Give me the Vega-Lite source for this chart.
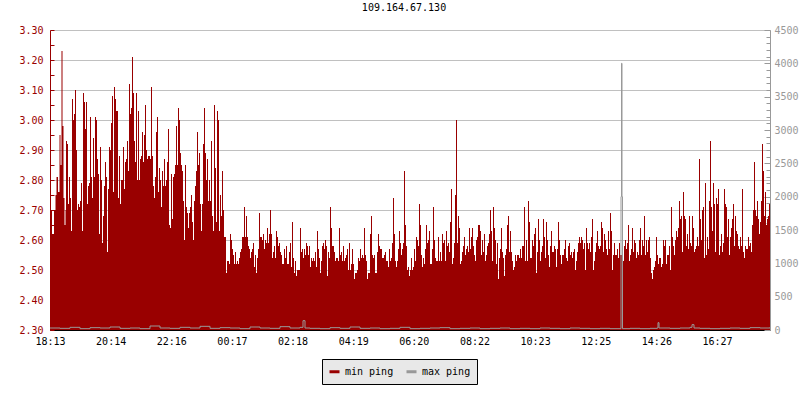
{
  "$schema": "https://vega.github.io/schema/vega-lite/v6.json",
  "width": 720,
  "height": 300,
  "autosize": {"type": "none"},
  "padding": {"left": 50, "top": 30, "right": 30, "bottom": 70},
  "background": "white",
  "title": {"text": "109.164.67.130", "font": "DejaVu Sans Mono", "fontSize": 10, "fontWeight": "normal", "color": "black", "offset": 12, "dx": -6},
  "datasets": {
    "minp": [
      {"m":0,"v":2.70},{"m":4,"v":2.62},{"m":8,"v":2.70},{"m":11,"v":2.75},{"m":13,"v":2.81},{"m":16,"v":2.76},{"m":19,"v":2.95},{"m":21,"v":2.85},{"m":23,"v":3.23},{"m":25,"v":2.98},{"m":27,"v":2.74},{"m":29,"v":2.65},{"m":31,"v":2.70},
      {"m":32,"v":2.93},{"m":34,"v":2.92},{"m":36,"v":2.72},{"m":38,"v":2.81},{"m":40,"v":2.74},{"m":42,"v":2.63},{"m":44,"v":3.07},{"m":46,"v":3.00},{"m":48,"v":3.02},{"m":50,"v":3.10},
      {"m":52,"v":2.90},{"m":54,"v":2.70},{"m":56,"v":2.72},{"m":58,"v":2.71},{"m":60,"v":2.73},{"m":62,"v":2.79},{"m":64,"v":2.63},{"m":66,"v":3.09},{"m":68,"v":3.06},{"m":70,"v":2.97},
      {"m":72,"v":3.06},{"m":74,"v":2.72},{"m":76,"v":2.78},{"m":78,"v":2.79},{"m":80,"v":3.01},{"m":82,"v":2.81},{"m":84,"v":2.74},{"m":86,"v":2.94},{"m":88,"v":2.81},{"m":90,"v":3.01},
      {"m":92,"v":3.00},{"m":94,"v":2.87},{"m":96,"v":2.82},{"m":98,"v":2.62},{"m":100,"v":2.91},{"m":102,"v":2.80},{"m":104,"v":2.59},{"m":106,"v":2.68},{"m":108,"v":2.78},{"m":110,"v":2.86},
      {"m":112,"v":2.81},{"m":114,"v":2.56},{"m":116,"v":2.77},{"m":118,"v":2.91},{"m":120,"v":2.90},{"m":122,"v":2.99},{"m":124,"v":3.08},{"m":126,"v":2.76},{"m":128,"v":3.11},{"m":130,"v":3.07},
      {"m":132,"v":3.03},{"m":134,"v":3.03},{"m":136,"v":2.74},{"m":138,"v":2.88},{"m":140,"v":2.72},{"m":142,"v":2.80},{"m":144,"v":2.80},{"m":146,"v":2.91},{"m":148,"v":2.77},{"m":150,"v":2.86},
      {"m":152,"v":2.87},{"m":154,"v":2.93},{"m":156,"v":2.83},{"m":158,"v":3.12},{"m":160,"v":3.02},{"m":162,"v":3.04},{"m":164,"v":3.21},{"m":166,"v":3.09},{"m":168,"v":2.93},{"m":170,"v":2.86},
      {"m":172,"v":3.09},{"m":174,"v":2.80},{"m":176,"v":3.03},{"m":178,"v":2.80},{"m":180,"v":2.87},{"m":182,"v":2.88},{"m":184,"v":2.96},{"m":186,"v":2.86},{"m":188,"v":2.95},{"m":190,"v":3.05},
      {"m":192,"v":2.90},{"m":194,"v":2.87},{"m":196,"v":2.88},{"m":198,"v":2.88},{"m":200,"v":2.87},{"m":202,"v":3.11},{"m":204,"v":2.88},{"m":206,"v":2.78},{"m":208,"v":2.74},{"m":210,"v":2.81},
      {"m":212,"v":2.96},{"m":214,"v":3.01},{"m":216,"v":2.76},{"m":218,"v":2.84},{"m":220,"v":2.80},{"m":222,"v":2.71},{"m":224,"v":2.83},{"m":226,"v":2.78},{"m":228,"v":2.87},{"m":230,"v":2.78},
      {"m":232,"v":2.80},{"m":234,"v":2.86},{"m":236,"v":2.97},{"m":238,"v":2.65},
      {"m":240,"v":2.64},{"m":242,"v":2.82},{"m":244,"v":2.67},{"m":246,"v":2.81},{"m":248,"v":2.82},{"m":250,"v":2.85},{"m":252,"v":2.98},{"m":254,"v":2.85},{"m":256,"v":3.04},{"m":258,"v":3.00},
      {"m":260,"v":2.89},{"m":262,"v":2.85},{"m":264,"v":2.83},{"m":266,"v":2.73},{"m":268,"v":2.60},{"m":270,"v":2.85},{"m":272,"v":2.71},{"m":274,"v":2.69},{"m":276,"v":2.64},{"m":278,"v":2.69},
      {"m":280,"v":2.71},{"m":282,"v":2.75},{"m":284,"v":2.66},{"m":286,"v":2.60},{"m":288,"v":2.73},{"m":290,"v":2.78},{"m":292,"v":2.83},{"m":294,"v":2.96},{"m":296,"v":2.85},{"m":298,"v":2.89},
      {"m":300,"v":2.72},{"m":302,"v":2.63},{"m":304,"v":2.72},{"m":306,"v":2.92},{"m":308,"v":3.04},{"m":310,"v":2.89},{"m":312,"v":2.80},{"m":314,"v":2.87},{"m":316,"v":2.73},{"m":318,"v":2.80},
      {"m":320,"v":2.73},{"m":322,"v":2.93},{"m":324,"v":2.68},{"m":326,"v":2.63},{"m":328,"v":3.05},{"m":330,"v":2.84},{"m":332,"v":2.66},{"m":334,"v":3.03},{"m":336,"v":3.00},{"m":338,"v":2.63},
      {"m":340,"v":2.75},{"m":342,"v":2.68},{"m":344,"v":2.83},{"m":346,"v":2.70},{"m":348,"v":2.61},{"m":350,"v":2.61},{"m":352,"v":2.49},{"m":354,"v":2.53},{"m":356,"v":2.53},{"m":358,"v":2.52},
      {"m":360,"v":2.62},{"m":362,"v":2.60},{"m":364,"v":2.57},{"m":366,"v":2.55},{"m":368,"v":2.52},{"m":370,"v":2.56},{"m":372,"v":2.52},{"m":374,"v":2.53},{"m":376,"v":2.52},{"m":378,"v":2.54},
      {"m":380,"v":2.56},{"m":382,"v":2.57},{"m":384,"v":2.61},{"m":386,"v":2.61},{"m":388,"v":2.71},{"m":390,"v":2.61},{"m":392,"v":2.68},{"m":394,"v":2.61},{"m":396,"v":2.58},{"m":398,"v":2.57},
      {"m":400,"v":2.54},{"m":402,"v":2.56},{"m":404,"v":2.57},{"m":406,"v":2.59},{"m":408,"v":2.51},{"m":410,"v":2.55},{"m":412,"v":2.49},{"m":414,"v":2.54},{"m":416,"v":2.57},{"m":418,"v":2.69},
      {"m":420,"v":2.61},{"m":422,"v":2.61},{"m":424,"v":2.60},{"m":426,"v":2.62},{"m":428,"v":2.57},{"m":430,"v":2.60},{"m":432,"v":2.59},{"m":434,"v":2.64},{"m":436,"v":2.59},{"m":438,"v":2.62},
      {"m":440,"v":2.70},{"m":442,"v":2.62},{"m":444,"v":2.54},{"m":446,"v":2.56},{"m":448,"v":2.58},{"m":450,"v":2.54},{"m":452,"v":2.63},{"m":454,"v":2.61},{"m":456,"v":2.58},{"m":458,"v":2.59},
      {"m":460,"v":2.56},{"m":462,"v":2.55},{"m":464,"v":2.52},{"m":466,"v":2.52},{"m":468,"v":2.57},{"m":470,"v":2.54},{"m":472,"v":2.58},{"m":474,"v":2.52},{"m":476,"v":2.52},{"m":478,"v":2.56},
      {"m":480,"v":2.59},{"m":482,"v":2.51},{"m":484,"v":2.66},{"m":486,"v":2.54},{"m":488,"v":2.49},{"m":490,"v":2.53},{"m":492,"v":2.48},{"m":494,"v":2.50},{"m":496,"v":2.50},{"m":498,"v":2.50},
      {"m":500,"v":2.64},{"m":502,"v":2.56},{"m":504,"v":2.57},{"m":506,"v":2.54},{"m":508,"v":2.57},{"m":510,"v":2.55},{"m":512,"v":2.59},{"m":514,"v":2.58},{"m":516,"v":2.55},{"m":518,"v":2.58},
      {"m":520,"v":2.51},{"m":522,"v":2.54},{"m":524,"v":2.53},{"m":526,"v":2.54},{"m":528,"v":2.53},{"m":530,"v":2.56},{"m":532,"v":2.51},{"m":534,"v":2.63},{"m":536,"v":2.57},{"m":538,"v":2.54},
      {"m":540,"v":2.49},{"m":542,"v":2.53},{"m":544,"v":2.58},{"m":546,"v":2.59},{"m":548,"v":2.57},{"m":550,"v":2.60},{"m":552,"v":2.58},{"m":554,"v":2.48},{"m":556,"v":2.56},{"m":558,"v":2.54},
      {"m":560,"v":2.71},{"m":562,"v":2.64},{"m":564,"v":2.58},{"m":566,"v":2.58},{"m":568,"v":2.56},{"m":570,"v":2.53},{"m":572,"v":2.54},{"m":574,"v":2.54},{"m":576,"v":2.53},{"m":578,"v":2.64},
      {"m":580,"v":2.55},{"m":582,"v":2.56},{"m":584,"v":2.53},{"m":586,"v":2.58},{"m":588,"v":2.53},{"m":590,"v":2.54},{"m":592,"v":2.55},{"m":594,"v":2.57},{"m":596,"v":2.50},{"m":598,"v":2.59},
      {"m":600,"v":2.50},{"m":602,"v":2.52},{"m":604,"v":2.57},{"m":606,"v":2.52},{"m":608,"v":2.47},{"m":610,"v":2.49},{"m":612,"v":2.49},{"m":614,"v":2.50},{"m":616,"v":2.54},{"m":618,"v":2.53},
      {"m":620,"v":2.57},{"m":622,"v":2.54},{"m":624,"v":2.55},{"m":626,"v":2.54},{"m":628,"v":2.64},{"m":630,"v":2.55},{"m":632,"v":2.53},{"m":634,"v":2.47},{"m":636,"v":2.49},{"m":638,"v":2.49},
      {"m":640,"v":2.62},{"m":642,"v":2.68},{"m":644,"v":2.55},{"m":646,"v":2.54},{"m":648,"v":2.55},{"m":650,"v":2.49},{"m":652,"v":2.49},{"m":654,"v":2.56},{"m":656,"v":2.62},{"m":658,"v":2.58},
      {"m":660,"v":2.57},{"m":662,"v":2.57},{"m":664,"v":2.54},{"m":666,"v":2.54},{"m":668,"v":2.55},{"m":670,"v":2.56},{"m":672,"v":2.53},{"m":674,"v":2.53},{"m":676,"v":2.51},{"m":678,"v":2.57},
      {"m":680,"v":2.53},{"m":682,"v":2.54},{"m":684,"v":2.59},{"m":686,"v":2.74},{"m":688,"v":2.62},{"m":690,"v":2.53},{"m":692,"v":2.51},{"m":694,"v":2.53},{"m":696,"v":2.57},{"m":698,"v":2.63},
      {"m":700,"v":2.59},{"m":702,"v":2.55},{"m":704,"v":2.57},{"m":706,"v":2.59},{"m":708,"v":2.83},{"m":710,"v":2.65},{"m":712,"v":2.58},{"m":714,"v":2.50},{"m":716,"v":2.51},{"m":718,"v":2.48},
      {"m":720,"v":2.50},{"m":722,"v":2.54},{"m":724,"v":2.50},{"m":726,"v":2.51},{"m":728,"v":2.57},{"m":730,"v":2.53},{"m":732,"v":2.61},{"m":734,"v":2.60},{"m":736,"v":2.58},{"m":738,"v":2.72},
      {"m":740,"v":2.65},{"m":742,"v":2.55},{"m":744,"v":2.51},{"m":746,"v":2.54},{"m":748,"v":2.52},{"m":750,"v":2.57},{"m":752,"v":2.65},{"m":754,"v":2.59},{"m":756,"v":2.60},{"m":758,"v":2.63},
      {"m":760,"v":2.52},{"m":762,"v":2.52},{"m":764,"v":2.57},{"m":766,"v":2.71},{"m":768,"v":2.60},{"m":770,"v":2.54},{"m":772,"v":2.53},{"m":774,"v":2.53},{"m":776,"v":2.61},{"m":778,"v":2.53},
      {"m":780,"v":2.56},{"m":782,"v":2.53},{"m":784,"v":2.62},{"m":786,"v":2.59},{"m":788,"v":2.60},{"m":790,"v":2.53},{"m":792,"v":2.63},{"m":794,"v":2.58},{"m":796,"v":2.59},{"m":798,"v":2.56},
      {"m":800,"v":2.66},{"m":802,"v":2.77},{"m":804,"v":2.52},{"m":806,"v":2.54},{"m":808,"v":2.59},{"m":810,"v":2.75},{"m":812,"v":3.00},{"m":814,"v":2.59},{"m":816,"v":2.68},{"m":818,"v":2.64},
      {"m":820,"v":2.52},{"m":822,"v":2.53},{"m":824,"v":2.56},{"m":826,"v":2.58},{"m":828,"v":2.61},{"m":830,"v":2.55},{"m":832,"v":2.57},{"m":834,"v":2.58},{"m":836,"v":2.56},{"m":838,"v":2.64},
      {"m":840,"v":2.57},{"m":842,"v":2.61},{"m":844,"v":2.64},{"m":846,"v":2.58},{"m":848,"v":2.55},{"m":850,"v":2.53},{"m":852,"v":2.60},{"m":854,"v":2.61},{"m":856,"v":2.65},{"m":858,"v":2.65},
      {"m":860,"v":2.63},{"m":862,"v":2.55},{"m":864,"v":2.60},{"m":866,"v":2.56},{"m":868,"v":2.62},{"m":870,"v":2.53},{"m":872,"v":2.55},{"m":874,"v":2.58},{"m":876,"v":2.59},{"m":878,"v":2.62},
      {"m":880,"v":2.70},{"m":882,"v":2.63},{"m":884,"v":2.53},{"m":886,"v":2.71},{"m":888,"v":2.64},{"m":890,"v":2.60},{"m":892,"v":2.52},{"m":894,"v":2.59},{"m":896,"v":2.47},{"m":898,"v":2.54},
      {"m":900,"v":2.57},{"m":902,"v":2.64},{"m":904,"v":2.56},{"m":906,"v":2.54},{"m":908,"v":2.48},{"m":910,"v":2.55},{"m":912,"v":2.57},{"m":914,"v":2.65},{"m":916,"v":2.68},{"m":918,"v":2.56},
      {"m":920,"v":2.63},{"m":922,"v":2.56},{"m":924,"v":2.53},{"m":926,"v":2.50},{"m":928,"v":2.51},{"m":930,"v":2.55},{"m":932,"v":2.53},{"m":934,"v":2.55},{"m":936,"v":2.55},{"m":938,"v":2.54},
      {"m":940,"v":2.57},{"m":942,"v":2.54},{"m":944,"v":2.58},{"m":946,"v":2.58},{"m":948,"v":2.71},{"m":950,"v":2.53},{"m":952,"v":2.60},{"m":954,"v":2.53},{"m":956,"v":2.73},{"m":958,"v":2.66},
      {"m":960,"v":2.54},{"m":962,"v":2.54},{"m":964,"v":2.60},{"m":966,"v":2.58},{"m":968,"v":2.62},{"m":970,"v":2.64},{"m":972,"v":2.49},{"m":974,"v":2.56},{"m":976,"v":2.67},{"m":978,"v":2.60},
      {"m":980,"v":2.53},{"m":982,"v":2.56},{"m":984,"v":2.58},{"m":986,"v":2.67},{"m":988,"v":2.61},{"m":990,"v":2.54},{"m":992,"v":2.66},{"m":994,"v":2.60},{"m":996,"v":2.55},{"m":998,"v":2.51},
      {"m":1000,"v":2.58},{"m":1002,"v":2.63},{"m":1004,"v":2.56},{"m":1006,"v":2.56},{"m":1008,"v":2.58},{"m":1010,"v":2.57},{"m":1012,"v":2.51},{"m":1014,"v":2.57},{"m":1016,"v":2.66},{"m":1018,"v":2.60},
      {"m":1020,"v":2.55},{"m":1022,"v":2.52},{"m":1024,"v":2.55},{"m":1026,"v":2.55},{"m":1028,"v":2.57},{"m":1030,"v":2.60},{"m":1032,"v":2.54},{"m":1034,"v":2.53},{"m":1036,"v":2.58},{"m":1038,"v":2.59},
      {"m":1040,"v":2.55},{"m":1042,"v":2.56},{"m":1044,"v":2.54},{"m":1046,"v":2.56},{"m":1048,"v":2.57},{"m":1050,"v":2.50},{"m":1052,"v":2.53},{"m":1054,"v":2.56},{"m":1056,"v":2.59},{"m":1058,"v":2.61},
      {"m":1060,"v":2.59},{"m":1062,"v":2.61},{"m":1064,"v":2.60},{"m":1066,"v":2.57},{"m":1068,"v":2.59},{"m":1070,"v":2.50},{"m":1072,"v":2.64},{"m":1074,"v":2.59},{"m":1076,"v":2.57},{"m":1078,"v":2.59},
      {"m":1080,"v":2.56},{"m":1082,"v":2.61},{"m":1084,"v":2.67},{"m":1086,"v":2.50},{"m":1088,"v":2.53},{"m":1090,"v":2.56},{"m":1092,"v":2.59},{"m":1094,"v":2.63},{"m":1096,"v":2.58},{"m":1098,"v":2.57},
      {"m":1100,"v":2.58},{"m":1102,"v":2.66},{"m":1104,"v":2.64},{"m":1106,"v":2.56},{"m":1108,"v":2.62},{"m":1110,"v":2.60},{"m":1112,"v":2.57},{"m":1114,"v":2.55},{"m":1116,"v":2.63},{"m":1118,"v":2.57},
      {"m":1120,"v":2.69},{"m":1122,"v":2.63},{"m":1124,"v":2.50},{"m":1126,"v":2.55},{"m":1128,"v":2.59},{"m":1130,"v":2.55},{"m":1132,"v":2.55},{"m":1134,"v":2.57},{"m":1136,"v":2.54},{"m":1138,"v":2.59},
      {"m":1140,"v":2.55},{"m":1142,"v":2.55},{"m":1144,"v":2.55},{"m":1146,"v":2.53},{"m":1148,"v":2.58},{"m":1150,"v":2.60},{"m":1152,"v":2.57},{"m":1154,"v":2.59},{"m":1156,"v":2.65},{"m":1158,"v":2.53},
      {"m":1160,"v":2.55},{"m":1162,"v":2.57},{"m":1164,"v":2.64},{"m":1166,"v":2.56},{"m":1168,"v":2.60},{"m":1170,"v":2.59},{"m":1172,"v":2.54},{"m":1174,"v":2.56},{"m":1176,"v":2.55},{"m":1178,"v":2.60},
      {"m":1180,"v":2.64},{"m":1182,"v":2.55},{"m":1184,"v":2.60},{"m":1186,"v":2.58},{"m":1188,"v":2.68},{"m":1190,"v":2.55},{"m":1192,"v":2.60},{"m":1194,"v":2.56},{"m":1196,"v":2.60},{"m":1198,"v":2.61},
      {"m":1200,"v":2.54},{"m":1202,"v":2.49},{"m":1204,"v":2.47},{"m":1206,"v":2.50},{"m":1208,"v":2.51},{"m":1210,"v":2.53},{"m":1212,"v":2.61},{"m":1214,"v":2.55},{"m":1216,"v":2.52},{"m":1218,"v":2.54},
      {"m":1220,"v":2.54},{"m":1222,"v":2.51},{"m":1224,"v":2.52},{"m":1226,"v":2.60},{"m":1228,"v":2.58},{"m":1230,"v":2.60},{"m":1232,"v":2.52},{"m":1234,"v":2.55},{"m":1236,"v":2.55},{"m":1238,"v":2.58},
      {"m":1240,"v":2.50},{"m":1242,"v":2.71},{"m":1244,"v":2.61},{"m":1246,"v":2.58},{"m":1248,"v":2.55},{"m":1250,"v":2.60},{"m":1252,"v":2.63},{"m":1254,"v":2.61},{"m":1256,"v":2.64},{"m":1258,"v":2.73},
      {"m":1260,"v":2.67},{"m":1262,"v":2.68},{"m":1264,"v":2.56},{"m":1266,"v":2.76},{"m":1268,"v":2.68},{"m":1270,"v":2.67},{"m":1272,"v":2.58},{"m":1274,"v":2.62},{"m":1276,"v":2.57},{"m":1278,"v":2.68},
      {"m":1280,"v":2.59},{"m":1282,"v":2.58},{"m":1284,"v":2.68},{"m":1286,"v":2.64},{"m":1288,"v":2.56},{"m":1290,"v":2.57},{"m":1292,"v":2.58},{"m":1294,"v":2.61},{"m":1296,"v":2.58},{"m":1298,"v":2.87},
      {"m":1300,"v":2.67},{"m":1302,"v":2.60},{"m":1304,"v":2.70},{"m":1306,"v":2.71},{"m":1308,"v":2.54},{"m":1310,"v":2.79},{"m":1312,"v":2.55},{"m":1314,"v":2.61},{"m":1316,"v":2.57},{"m":1318,"v":2.73},
      {"m":1320,"v":2.93},{"m":1322,"v":2.71},{"m":1324,"v":2.63},{"m":1326,"v":2.79},{"m":1328,"v":2.72},{"m":1330,"v":2.56},{"m":1332,"v":2.74},{"m":1334,"v":2.72},{"m":1336,"v":2.77},{"m":1338,"v":2.55},
      {"m":1340,"v":2.58},{"m":1342,"v":2.62},{"m":1344,"v":2.56},{"m":1346,"v":2.59},{"m":1348,"v":2.77},{"m":1350,"v":2.72},{"m":1352,"v":2.71},{"m":1354,"v":2.61},{"m":1356,"v":2.67},{"m":1358,"v":2.55},
      {"m":1360,"v":2.61},{"m":1362,"v":2.64},{"m":1364,"v":2.67},{"m":1366,"v":2.72},{"m":1368,"v":2.58},{"m":1370,"v":2.68},{"m":1372,"v":2.63},{"m":1374,"v":2.62},{"m":1376,"v":2.58},{"m":1378,"v":2.57},
      {"m":1380,"v":2.61},{"m":1382,"v":2.58},{"m":1384,"v":2.77},{"m":1386,"v":2.56},{"m":1388,"v":2.54},{"m":1390,"v":2.58},{"m":1392,"v":2.57},{"m":1394,"v":2.57},{"m":1396,"v":2.61},{"m":1398,"v":2.58},
      {"m":1400,"v":2.59},{"m":1402,"v":2.56},{"m":1404,"v":2.65},{"m":1406,"v":2.70},{"m":1408,"v":2.86},{"m":1410,"v":2.70},{"m":1412,"v":2.68},{"m":1414,"v":2.73},{"m":1416,"v":2.67},{"m":1418,"v":2.62},
      {"m":1420,"v":2.66},{"m":1422,"v":2.73},{"m":1424,"v":2.92},{"m":1426,"v":2.83},{"m":1428,"v":2.68},{"m":1430,"v":2.76},{"m":1432,"v":2.65},{"m":1434,"v":2.67},{"m":1436,"v":2.68},{"m":1438,"v":2.72},
      {"m":1440,"v":2.72}
    ],
    "maxp": [
      {"m":0,"v":30},{"m":20,"v":25},{"m":40,"v":40},{"m":60,"v":20},{"m":80,"v":35},{"m":100,"v":30},{"m":120,"v":45},{"m":140,"v":25},{"m":160,"v":30},{"m":180,"v":20},
      {"m":200,"v":60},{"m":220,"v":30},{"m":240,"v":25},{"m":260,"v":40},{"m":280,"v":30},{"m":300,"v":55},{"m":320,"v":25},{"m":340,"v":35},{"m":360,"v":30},{"m":380,"v":20},
      {"m":400,"v":45},{"m":420,"v":30},{"m":440,"v":25},{"m":460,"v":50},{"m":480,"v":30},{"m":500,"v":40},{"m":506,"v":140},{"m":510,"v":30},{"m":520,"v":25},{"m":540,"v":20},
      {"m":560,"v":35},{"m":580,"v":25},{"m":600,"v":45},{"m":620,"v":25},{"m":640,"v":30},{"m":660,"v":20},{"m":680,"v":25},{"m":700,"v":40},{"m":720,"v":20},{"m":740,"v":25},
      {"m":760,"v":30},{"m":780,"v":35},{"m":800,"v":20},{"m":820,"v":25},{"m":840,"v":30},{"m":860,"v":20},{"m":880,"v":25},{"m":900,"v":30},{"m":920,"v":20},{"m":940,"v":25},
      {"m":960,"v":20},{"m":980,"v":30},{"m":1000,"v":25},{"m":1020,"v":20},{"m":1040,"v":30},{"m":1060,"v":25},{"m":1080,"v":20},{"m":1100,"v":25},{"m":1120,"v":20},{"m":1140,"v":20},
      {"m":1142,"v":2000},{"m":1143,"v":4000},{"m":1144,"v":2000},{"m":1145,"v":20},{"m":1160,"v":25},{"m":1180,"v":20},{"m":1200,"v":25},{"m":1214,"v":30},{"m":1216,"v":110},{"m":1218,"v":30},
      {"m":1240,"v":25},{"m":1260,"v":30},{"m":1280,"v":40},{"m":1284,"v":80},{"m":1288,"v":30},{"m":1300,"v":25},{"m":1320,"v":20},{"m":1340,"v":25},{"m":1360,"v":30},{"m":1380,"v":25},
      {"m":1400,"v":35},{"m":1420,"v":30},{"m":1440,"v":40}
    ]
  },
  "layer": [
    {
      "data": {"name": "minp"},
      "mark": {"type": "area", "interpolate": "step-after"},
      "encoding": {
        "x": {
          "field": "m", "type": "quantitative",
          "scale": {"domain": [0, 1440], "nice": false, "zero": false},
          "axis": {
            "title": null, "grid": false,
            "values": [0, 121.27, 242.55, 363.82, 485.09, 606.36, 727.64, 848.91, 970.18, 1091.45, 1212.73, 1334],
            "labelExpr": "['18:13','20:14','22:16','00:17','02:18','04:19','06:20','08:22','10:23','12:25','14:26','16:27'][round(datum.value/121.27)]",
            "domainColor": "black", "tickColor": "black", "tickSize": -4,
            "labelColor": "black", "labelFont": "DejaVu Sans Mono", "labelFontSize": 10,
            "labelPadding": 10, "labelFlush": false, "labelOverlap": false
          }
        },
        "y": {
          "field": "v", "type": "quantitative",
          "scale": {"domain": [2.3, 3.3], "nice": false, "zero": false},
          "axis": {
            "title": null,
            "values": [2.3, 2.35, 2.4, 2.45, 2.5, 2.55, 2.6, 2.65, 2.7, 2.75, 2.8, 2.85, 2.9, 2.95, 3.0, 3.05, 3.1, 3.15, 3.2, 3.25, 3.3],
            "labelExpr": "round(datum.value*100) % 10 == 0 ? format(datum.value, '.2f') : ''",
            "labelColor": "#990000", "labelFont": "DejaVu Sans Mono", "labelFontSize": 10,
            "domainColor": "#990000", "tickColor": "#990000", "tickSize": -4,
            "labelPadding": 11, "labelFlush": false, "labelOverlap": false,
            "grid": true, "gridColor": "#c0c0c0",
            "gridOpacity": {"condition": {"test": "round(datum.value*100) % 10 == 0", "value": 1}, "value": 0}
          }
        },
        "y2": {"datum": 2.3},
        "color": {
          "datum": "min ping", "type": "nominal",
          "scale": {"domain": ["min ping", "max ping"], "range": ["#990000", "#999999"]},
          "legend": {
            "orient": "none", "legendX": 272, "legendY": 329, "direction": "horizontal",
            "title": null, "fillColor": "#e8e8e8", "strokeColor": "black", "padding": 6,
            "symbolType": "stroke", "symbolStrokeWidth": 3, "symbolSize": 100,
            "labelFont": "DejaVu Sans Mono", "labelFontSize": 10, "labelColor": "black",
            "columnPadding": 6, "labelOffset": 4,
            "encode": {"symbols": {"update": {"stroke": {"scale": "color", "field": "value"}, "strokeWidth": {"value": 3}}}}
          }
        }
      }
    },
    {
      "data": {"name": "maxp"},
      "mark": {"type": "line", "interpolate": "step-after", "strokeWidth": 1},
      "encoding": {
        "x": {"field": "m", "type": "quantitative"},
        "y": {
          "field": "v", "type": "quantitative",
          "scale": {"domain": [0, 4500], "nice": false},
          "axis": {
            "orient": "right", "title": null, "grid": false, "format": "d",
            "values": [0,100,200,300,400,500,600,700,800,900,1000,1100,1200,1300,1400,1500,1600,1700,1800,1900,2000,2100,2200,2300,2400,2500,2600,2700,2800,2900,3000,3100,3200,3300,3400,3500,3600,3700,3800,3900,4000,4100,4200,4300,4400,4500],
            "labelExpr": "datum.value % 500 == 0 ? datum.label : ''",
            "labelColor": "#999999", "labelFont": "DejaVu Sans Mono", "labelFontSize": 10,
            "domainColor": "#999999", "tickColor": "#999999",
            "tickSize": {"condition": {"test": "datum.value % 500 == 0", "value": -6}, "value": -4},
            "labelPadding": 10, "labelFlush": false, "labelOverlap": false
          }
        },
        "color": {"datum": "max ping", "type": "nominal"}
      }
    }
  ],
  "resolve": {"scale": {"y": "independent"}},
  "config": {"view": {"stroke": null}}
}
